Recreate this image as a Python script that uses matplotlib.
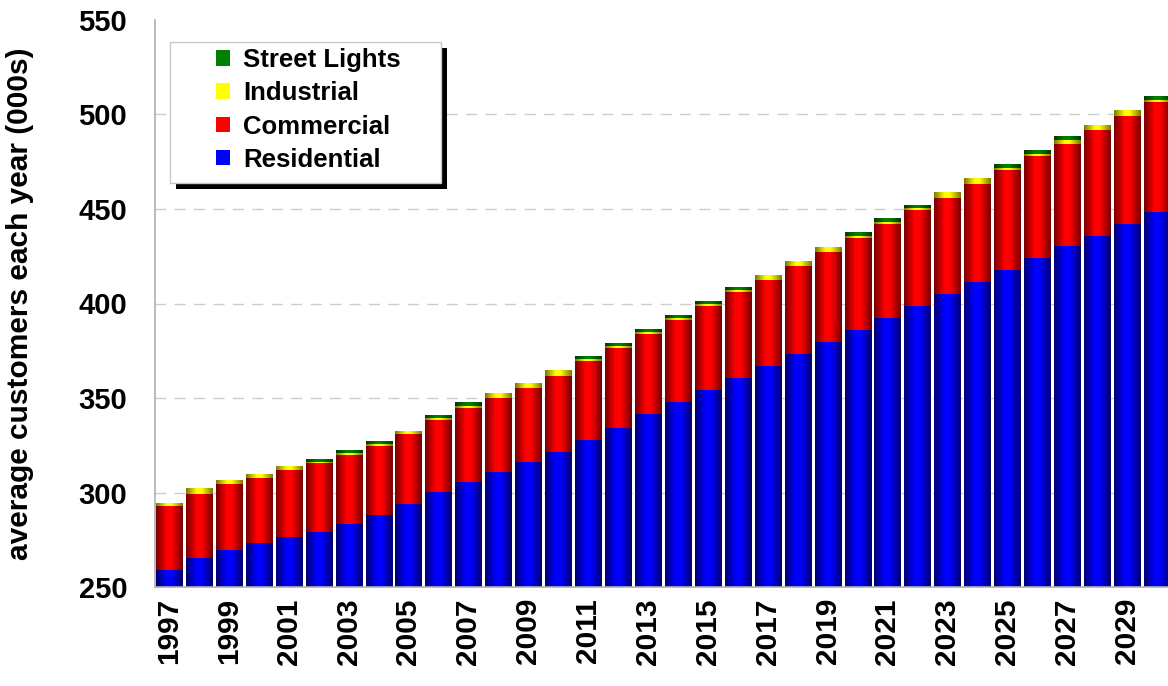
import numpy as np
import matplotlib.pyplot as plt
from matplotlib.colors import LinearSegmentedColormap
from matplotlib.patches import Rectangle, Patch

plt.rcParams['font.family'] = ['Liberation Sans', 'DejaVu Sans']
plt.rcParams['font.weight'] = 'bold'

years = list(range(1997, 2031))
residential = [259.0, 265.3, 269.6, 273.1, 276.3, 279.1, 283.3, 287.9, 293.9, 300.3,
               305.6, 311.0, 316.1, 321.4, 327.8, 334.1, 341.5, 347.9, 354.2, 360.6,
               366.9, 373.3, 379.6, 386.0, 392.3, 398.7, 405.0, 411.4, 417.7, 424.1,
               430.4, 435.7, 442.1, 448.4]
commercial = [33.9, 33.9, 34.9, 34.6, 35.6, 36.3, 36.4, 36.9, 37.1, 38.1,
              39.1, 39.2, 39.4, 40.2, 41.9, 42.5, 42.5, 43.5, 44.6, 45.6,
              45.7, 46.7, 47.7, 48.7, 49.8, 50.8, 50.8, 51.8, 52.9, 53.9,
              54.0, 56.1, 57.1, 58.2]
industrial = [1.5, 2.7, 1.6, 1.6, 1.6, 0.9, 1.0, 1.0, 1.5, 1.2,
              1.1, 2.4, 2.4, 2.7, 0.9, 1.1, 1.1, 1.1, 1.1, 1.1,
              2.5, 2.5, 2.6, 1.0, 1.1, 1.1, 2.7, 2.7, 1.1, 1.1,
              2.1, 2.6, 2.7, 1.1]
street_lights = [0, 0, 0, 0, 0, 1.4, 1.3, 1.4, 0, 1.4,
                 1.6, 0, 0, 0, 1.1, 1.4, 1.4, 1.4, 1.4, 1.4,
                 0, 0, 0, 1.6, 1.6, 1.5, 0, 0, 1.6, 1.6,
                 1.6, 0, 0, 1.6]

series = [
    ('Residential', residential, '#0000ff', '#000070'),
    ('Commercial', commercial, '#ff0000', '#780000'),
    ('Industrial', industrial, '#ffff00', '#7a7a00'),
    ('Street Lights', street_lights, '#008000', '#003a00'),
]

fig = plt.figure(figsize=(11.68, 6.86), dpi=100)
ax = fig.add_axes([155 / 1168, 1 - 587 / 686, 1013 / 1168, 567 / 686])

# dashed grid lines
ax.hlines([300, 350, 400, 450, 500], 1990, 2040, colors='#cccccc',
          linestyles=(0, (8, 6)), linewidth=1, zorder=0)

grad = np.linspace(0, 1, 64).reshape(1, -1)
bottom = np.zeros(len(years))
for name, vals, bright, dark in series:
    bars = ax.bar(years, vals, width=0.87, bottom=bottom, color=bright,
                  linewidth=0, zorder=2, label=name)
    cmap = LinearSegmentedColormap.from_list(
        name, [(0, dark), (0.4, bright), (0.58, bright), (1, dark)])
    for b in bars:
        if b.get_height() <= 0:
            continue
        x0, y0 = b.get_x(), b.get_y()
        ax.imshow(grad, cmap=cmap, aspect='auto', interpolation='bilinear',
                  extent=(x0, x0 + b.get_width(), y0, y0 + b.get_height()),
                  zorder=2.1)
    bottom = bottom + np.array(vals)

ax.set_xlim(1997 - 0.4676, 2030.37)
ax.set_ylim(250, 550)
ax.set_yticks([250, 300, 350, 400, 450, 500, 550])
ax.set_xticks(years[::2])
ax.set_xticklabels([str(y) for y in years[::2]], rotation=90)
ax.tick_params(axis='y', length=0, pad=20, labelsize=21)
ax.tick_params(axis='x', length=0, pad=8, labelsize=21.5)
for s in ['top', 'right']:
    ax.spines[s].set_visible(False)
for s in ['left', 'bottom']:
    ax.spines[s].set_color('#b0b0b0')
    ax.spines[s].set_linewidth(1.2)

fig.text(20 / 1168, 1 - 304 / 686, 'average customers each year (000s)',
         rotation=90, ha='center', va='center', fontsize=21.5, fontweight='bold')

# legend box with black shadow
bx0, bx1 = (170 - 155) / 1013, (441 - 155) / 1013
by0, by1 = (587 - 183) / 567, (587 - 42) / 567
dx, dy = 6 / 1013, 6 / 567
ax.add_patch(Rectangle((bx0 + dx, by0 - dy), bx1 - bx0, by1 - by0,
                       transform=ax.transAxes, facecolor='black',
                       edgecolor='none', zorder=5, clip_on=False))
ax.add_patch(Rectangle((bx0, by0), bx1 - bx0, by1 - by0,
                       transform=ax.transAxes, facecolor='white',
                       edgecolor='#c8c8c8', linewidth=1, zorder=5.1,
                       clip_on=False))
handles = [Patch(facecolor=c, edgecolor='none', label=n)
           for n, v, c, d in series[::-1]]
leg = ax.legend(handles=handles, loc='upper left',
                bbox_to_anchor=((216 - 155) / 1013, (587 - 48) / 567),
                borderaxespad=0, borderpad=0, frameon=False, fontsize=18.5,
                handlelength=0.55, handleheight=0.55, handletextpad=0.5,
                labelspacing=0.36)
leg.set_zorder(6)

fig.savefig('out.png', dpi=100)
